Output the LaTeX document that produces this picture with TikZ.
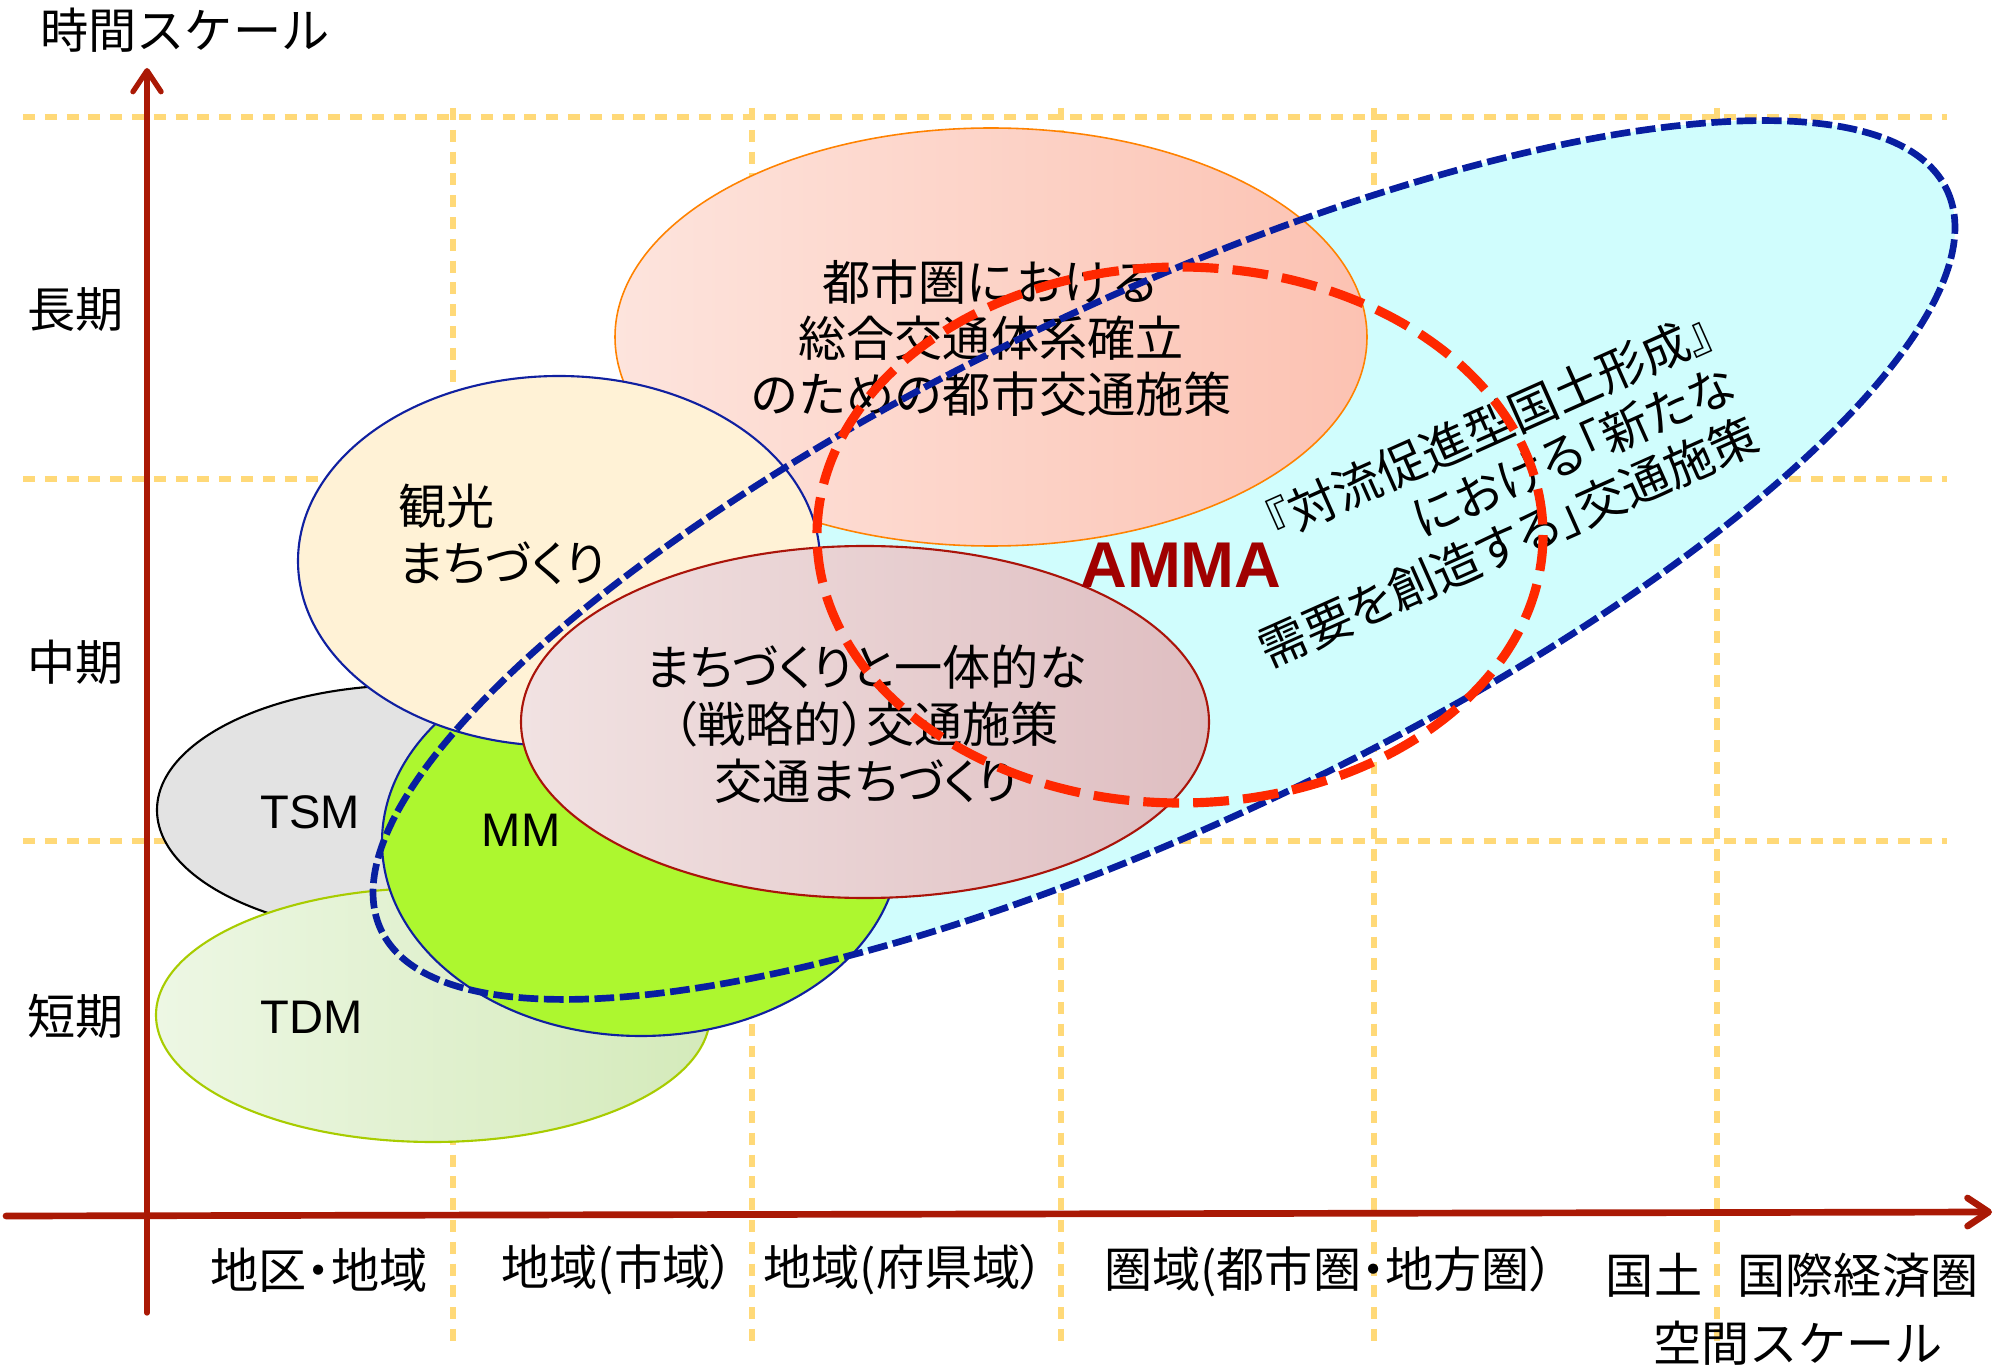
\documentclass[tikz,border=0pt]{standalone}
\usepackage{fontspec}
\setmainfont{Noto Sans CJK JP}
\newfontfamily\jpp[RawFeature=+palt]{Noto Sans CJK JP}
\newfontfamily\latf{Liberation Sans}
\usetikzlibrary{arrows.meta}
\definecolor{gridc}{RGB}{255,217,120}
\definecolor{axisc}{RGB}{170,25,5}
\definecolor{cyanfill}{RGB}{208,253,253}
\definecolor{blued}{RGB}{8,30,160}
\definecolor{orangeb}{RGB}{255,130,0}
\definecolor{orangeL}{RGB}{253,228,221}
\definecolor{orangeR}{RGB}{252,194,178}
\definecolor{creamf}{RGB}{255,242,214}
\definecolor{darkb}{RGB}{16,32,160}
\definecolor{greyf}{RGB}{227,227,227}
\definecolor{tdmL}{RGB}{237,247,228}
\definecolor{tdmR}{RGB}{212,234,186}
\definecolor{tdmb}{RGB}{168,204,0}
\definecolor{mmf}{RGB}{173,247,47}
\definecolor{mauveL}{RGB}{241,226,226}
\definecolor{mauveR}{RGB}{223,190,193}
\definecolor{mauveb}{RGB}{170,20,10}
\definecolor{redd}{RGB}{255,40,0}
\definecolor{ammac}{RGB}{160,0,0}
\begin{document}
\begin{tikzpicture}[x=0.01cm,y=-0.01cm,
  gridline/.style={draw=gridc,line width=1.45pt,dash pattern=on 3.4pt off 2.8pt},
  axisline/.style={draw=axisc,line width=1.5pt,line cap=round,
     -{Straight Barb[length=6pt,width=8pt,round]}},
  jtext/.style={font=\fontsize{13.7pt}{16pt}\selectfont,inner sep=0pt},
  ptext/.style={font=\jpp\fontsize{13.7pt}{16.2pt}\selectfont,inner sep=0pt},
  ltext/.style={font=\latf\fontsize{13.4pt}{16pt}\selectfont,inner sep=0pt},
  thinb/.style={line width=0.6pt}
]
\useasboundingbox (0,0) rectangle (1999,1367);
\fill[white] (0,0) rectangle (1999,1367);

% grid
\foreach \yy in {117,479,841} \draw[gridline] (23,\yy) -- (1947,\yy);
\foreach \xx in {453,752,1061,1374,1717} \draw[gridline] (\xx,108) -- (\xx,1342);

% axes
\coordinate (yb) at (147,1313);
\coordinate (yt) at (147,68);
\coordinate (xl) at (6,1216);
\coordinate (xr) at (1992,1212);
\draw[axisline] (yb) -- (yt);
\draw[axisline,line width=1.9pt] (xl) -- (xr);

% cyan region fill
\fill[cyanfill,rotate around={25.3:(1164,560)}] (1164,560) ellipse [x radius=866, y radius=262];

% ellipses
\draw[orangeb,line width=0.45pt,left color=orangeL,right color=orangeR] (991,337) ellipse [x radius=376, y radius=209];
\draw[black,thinb,fill=greyf] (413,810) ellipse [x radius=256, y radius=125];
\draw[tdmb,thinb,left color=tdmL,right color=tdmR] (433,1015) ellipse [x radius=277, y radius=127];
\draw[darkb,thinb,fill=mmf] (641,842) ellipse [x radius=259, y radius=194];
\draw[darkb,thinb,fill=creamf] (559,561) ellipse [x radius=261, y radius=185];
\draw[mauveb,thinb,left color=mauveL,right color=mauveR] (865,722) ellipse [x radius=344, y radius=176];

% texts
\node[jtext] (tlabel) at (185,30) {時間スケール};
\node[jtext] (long) at (76,310) {長期};
\node[jtext] (mid) at (76,662) {中期};
\node[jtext] (short) at (76,1016) {短期};

\node[jtext,align=center] (urban) at (991,338) {都市圏における\\総合交通体系確立\\のための都市交通施策};
\node[ptext,align=left,anchor=west] (tour) at (398,534) {観光\\まちづくり};
\node[ptext,align=center] (strat) at (866,724) {まちづくりと一体的な\\（戦略的）交通施策\\交通まちづくり};
\node[ltext] (tsm) at (310,812) {TSM};
\node[ltext] (mm) at (521,830) {MM};
\node[ltext] (tdm) at (312,1017) {TDM};
\node[font=\latf\bfseries\fontsize{18.4pt}{20pt}\selectfont,text=ammac,inner sep=0pt] (amma) at (1181,565) {AMMA};
\node[ptext,align=right,anchor=east,rotate=24] (conv) at (1733,380)
  {『対流促進型国土形成』\\における「新たな\\需要を創造する」交通施策};

\node[ptext] (s1) at (319,1270) {地区・地域};
\node[ptext] (s2) at (618,1270) {地域(市域）};
\node[ptext] (s3) at (904,1270) {地域(府県域）};
\node[ptext] (s4) at (1329,1272) {圏域(都市圏・地方圏）};
\node[jtext] (s5) at (1654,1275) {国土};
\node[jtext] (s6) at (1858,1275) {国際経済圏};
\node[jtext] (slabel) at (1798,1343) {空間スケール};

% dashed outlines on top
\draw[blued,line width=1.9pt,dash pattern=on 5.6pt off 1.6pt,rotate around={25.3:(1164,560)}] (1164,560) ellipse [x radius=866, y radius=262];
\draw[redd,line width=2.6pt,dash pattern=on 10.2pt off 4pt] (1180,535) ellipse [x radius=363, y radius=268];
\end{tikzpicture}
\end{document}
